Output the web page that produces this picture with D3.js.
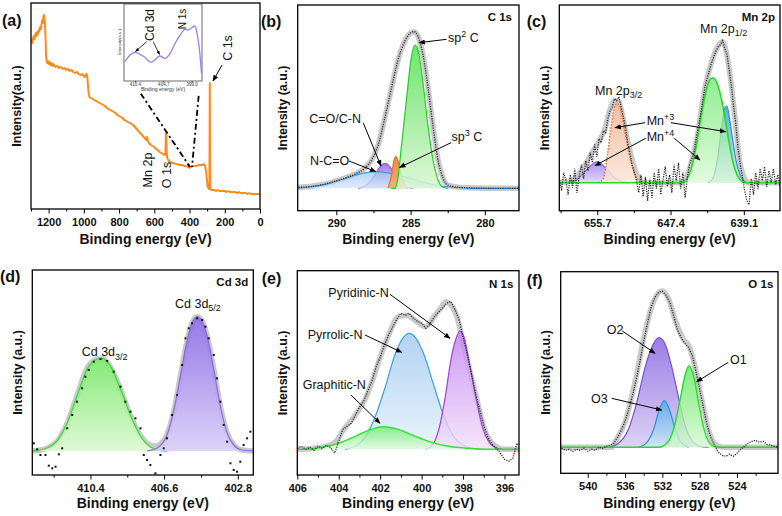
<!DOCTYPE html>
<html><head><meta charset="utf-8">
<script src="https://cdn.jsdelivr.net/npm/d3@7/dist/d3.min.js"></script>
<style>
body{margin:0;background:#fff;}
svg{display:block;font-family:"Liberation Sans",Arial,sans-serif;}
</style></head><body>
<svg id="chart" width="782" height="516"></svg>
<script>
// ---------------- DATA (binding energy eV, intensity a.u.) ----------------
const surveyData = [[1300,167],[1296,169],[1292,166],[1288,171],[1284,173],[1280,170],[1276,174],[1272,176],[1268,173],[1264,177],[1260,175],[1256,179],[1252,178],[1248,182],[1244,180],[1240,185],[1236,189],[1233,186],[1230,192],[1227,194],[1224,190],[1221,187],[1218,174],[1215,156],[1212,148],[1208,146],[1204,148],[1200,145],[1195,147],[1190,144],[1185,146],[1180,143],[1175,145],[1170,144],[1160,142],[1150,143],[1140,141],[1130,142],[1120,140],[1110,141],[1100,139],[1090,140],[1080,138],[1070,139],[1060,137],[1050,136],[1040,137],[1030,135],[1020,134],[1010,135],[1000,133],[995,132],[990,134],[985,135],[981,133],[977,125],[973,116],[968,112],[960,111],[950,110],[940,109],[930,108],[920,107],[910,106],[900,105],[890,104],[880,103],[870,101],[860,100],[850,99],[840,98],[830,97],[820,96],[810,94],[800,93],[790,92],[780,91],[770,89],[760,88],[750,87],[740,86],[730,85],[720,84],[710,82],[700,80],[690,78],[680,76],[670,74],[660,72],[650,70],[645,69],[641,72],[637,68],[630,66],[620,64],[610,63],[600,62],[590,60],[580,59],[570,57],[560,56],[550,55],[542,54],[537,56],[534,76],[532,74],[530,58],[527,51],[520,49],[510,47],[500,46],[490,46],[480,45],[470,45],[460,44],[450,44],[440,44],[430,43],[420,43],[410,42],[404,44],[400,41],[396,42],[390,42],[380,43],[370,43],[360,43],[350,44],[340,44],[330,44],[320,45],[314,44],[309,41],[305,36],[301,29],[297,22],[293,21],[289,20],[287,22],[285,126],[283,21],[281,20],[276,19],[270,19],[260,19],[250,18],[240,19],[230,18],[220,18],[210,18],[200,18],[190,17],[180,18],[170,17],[160,17],[150,17],[140,17],[130,16],[120,17],[110,16],[100,16],[90,16],[80,16],[70,15],[60,16],[50,15],[40,15],[30,15],[20,15],[10,15],[0,14]];
const insetData = [[412.4,19.3],[411.4,26],[410.4,28.7],[409.4,26.7],[408.4,23.7],[407.2,18.7],[406.4,21],[405.4,25],[404.4,22.7],[403.3,27.7],[402.3,37.7],[401.3,46],[400.3,51.7],[399.7,51],[399.0,53.3],[398.3,55],[397.9,47.7],[397.4,31],[397.0,7.7]];

// C 1s
const c1sSp2 = [[286.3,0],[286.07,0],[285.89,6.6],[285.62,41.6],[285.28,88.3],[284.94,131.6],[284.72,143.3],[284.50,138.3],[284.16,105],[283.82,61.6],[283.49,28.3],[283.15,8.3],[282.81,1],[282.47,0]];
const c1sSp3 = [[286.52,0],[286.29,13],[286.12,28],[285.98,31.7],[285.80,25],[285.62,13],[285.39,3],[285.17,0]];
const c1sCO = [[288.54,0],[288.09,2],[287.64,8],[287.30,16],[286.97,23],[286.70,25],[286.41,22],[286.07,14],[285.74,6],[285.28,1.5],[284.84,0]];
const c1sNCO = [[292.7,0],[292.36,0.5],[291.46,2],[290.57,4.5],[289.67,8.5],[288.77,13],[287.87,16],[287.30,16.7],[286.52,15.5],[285.62,12.5],[284.72,8.5],[283.82,5],[282.93,2.3],[282.02,0.8],[280.90,0],[277.6,0]];
const c1sEnvelope = [[292.7,1],[292.56,1],[290.99,3.5],[289.89,8],[288.77,14],[288.09,20],[287.64,28],[287.19,43],[286.74,70],[286.29,100],[285.85,128],[285.39,147],[284.99,155.5],[284.77,156.6],[284.50,152],[284.16,133],[283.82,100],[283.49,62],[283.15,28],[282.81,10],[282.47,3],[281.57,0.8],[279.77,0],[277.6,0]];

// Mn 2p
const mnP32Mn4 = [[659.0,0],[658.03,3],[657.09,11],[656.33,18],[655.65,21],[655.13,18],[654.45,12],[653.69,5],[652.75,0.5],[652.19,0]];
const mnP32Mn3 = [[655.58,0],[655.02,4],[654.52,30],[654.07,60],[653.69,77],[653.39,79],[653.01,72],[652.56,50],[651.99,25],[651.43,8],[650.86,1],[650.30,0]];
const mnP12Mn4 = [[660,0],[646.14,0],[645.39,6],[644.63,30],[643.87,70],[643.19,98],[642.63,105],[642.06,98],[641.43,75],[640.86,45],[640.31,20],[639.75,6],[638.99,0],[635,0]];
const mnP12Mn3 = [[643.13,0],[642.56,5],[642.06,25],[641.62,55],[641.24,75],[641.02,76.7],[640.68,62],[640.31,40],[639.93,20],[639.44,6],[638.99,1],[638.61,0]];
const mnEnvelope = [[660,0],[658.6,2],[657.5,12],[656.3,30],[655.6,40],[654.8,55],[654.3,72],[653.7,82],[653.2,80],[652.8,65],[652.2,40],[651.6,18],[651.05,5],[650.3,0],[646.1,0],[645.4,10],[644.4,45],[643.5,95],[642.7,122],[642.0,137],[641.5,141],[641.2,135],[640.7,110],[640.1,65],[639.7,30],[639.2,8],[638.6,0],[635,0]];
const mnData = [[660,5],[659.75,-8],[659.5,10],[659.25,2],[659,-12],[658.75,8],[658.5,-5],[658.25,14],[658,-10],[657.75,6],[657.5,18],[657.25,4],[657,22],[656.75,12],[656.5,30],[656.25,20],[656,38],[655.75,26],[655.5,44],[655.25,40],[655,52],[654.75,50],[654.5,64],[654.25,72],[654,76],[653.75,84],[653.5,82],[653.25,86],[653,76],[652.75,66],[652.5,55],[652.25,40],[652,30],[651.75,18],[651.5,10],[651.25,2],[651,-10],[650.75,8],[650.5,-14],[650.25,6],[650,-18],[649.75,4],[649.5,-15],[649.25,10],[649,-6],[648.75,14],[648.5,-12],[648.25,3],[648,16],[647.75,-4],[647.5,8],[647.25,-10],[647,18],[646.75,2],[646.5,20],[646.25,-6],[646,10],[645.75,-15],[645.5,5],[645.25,18],[645,24],[644.75,30],[644.5,44],[644.25,56],[644,68],[643.75,82],[643.5,96],[643.25,104],[643,112],[642.75,120],[642.5,126],[642.25,132],[642,136],[641.75,138],[641.5,142],[641.25,134],[641,128],[640.75,112],[640.5,96],[640.25,76],[640,58],[639.75,34],[639.5,18],[639.25,6],[639,-8],[638.75,-18],[638.5,-22],[638.25,4],[638,-12],[637.75,10],[637.5,-6],[637.25,14],[637,2],[636.75,16],[636.5,-4],[636.25,12],[636,0],[635.75,14],[635.5,-2],[635.25,8],[635,-4]];

// Cd 3d
const cd32 = [[413.4,0],[413.15,0.5],[412.63,3],[412.12,10],[411.6,28],[411.09,55],[410.57,82],[410.05,92],[409.8,92.7],[409.37,85],[408.85,62],[408.34,36],[407.82,15],[407.31,4],[406.79,0.5],[406.45,0]];
const cd52 = [[407.48,0],[406.96,3],[406.45,16],[406.11,40],[405.76,75],[405.42,110],[405.16,128],[404.9,134.3],[404.64,130],[404.38,115],[404.04,82],[403.7,45],[403.35,18],[403.01,6],[402.58,1],[402.0,0]];
const cdEnvelope = [[413.4,0],[413.15,0.5],[412.6,3],[412.1,10],[411.6,28],[411.1,55],[410.6,82],[410.05,92],[409.8,92.7],[409.4,85],[408.85,62],[408.35,36],[407.8,15],[407.3,6],[407.0,5],[406.8,7],[406.45,16.5],[406.1,40],[405.76,75],[405.42,110],[405.16,128],[404.9,134.3],[404.64,130],[404.38,115],[404.04,82],[403.7,45],[403.35,18],[403.0,6],[402.6,1],[402.0,0]];
const cdData = [[413.32,7.7],[413.15,1.7],[412.98,-4],[412.72,-4],[412.55,-14.7],[412.37,-17.3],[412.2,-15.7],[412.03,-3.3],[411.86,2.7],[411.6,22.7],[411.34,36],[411.09,49.3],[410.83,62.7],[410.66,74.3],[410.49,81],[410.23,89.3],[409.88,92],[409.54,90],[409.2,79.3],[408.85,64.3],[408.6,49.3],[408.34,39.3],[408.08,32.7],[407.82,22.7],[407.65,-4],[407.48,-9],[407.31,-14],[407.05,-22.3],[406.79,-4],[406.62,2.7],[406.45,12.7],[406.19,36],[405.93,56],[405.67,86],[405.5,112.7],[405.33,122.7],[405.16,127.7],[404.9,132.7],[404.64,131],[404.47,124.3],[404.3,112.7],[404.04,96],[403.87,72.7],[403.7,49.3],[403.53,26],[403.35,9.3],[403.18,-12.3],[403.01,-19],[402.84,-20.7],[402.67,-10.7],[402.5,6],[402.32,12.7],[402.15,19.3]];

// N 1s
const nGraphitic = [[406,0],[405.63,0],[404.82,2],[404.02,6],[403.21,13],[402.57,19],[401.85,22.6],[401.12,20],[400.31,13],[399.51,7],[398.71,3],[397.74,1],[396.77,0],[395.2,0]];
const nPyrrolic = [[403.7,0],[403.21,3],[402.73,12],[402.25,32],[401.76,62],[401.28,95],[400.88,112],[400.6,116],[400.31,112],[399.91,96],[399.43,65],[398.94,34],[398.46,13],[397.98,4],[397.41,0.5],[396.98,0]];
const nPyridinic = [[399.81,0],[399.49,4],[399.17,20],[398.84,55],[398.6,88],[398.35,110],[398.16,118.3],[397.95,112],[397.71,88],[397.38,52],[397.06,22],[396.74,7],[396.42,1.5],[396.1,0]];
const nEnvelope = [[406,0],[405.95,0],[404.82,2],[404.18,7],[403.78,19],[403.21,34],[402.73,50],[402.4,67],[402.0,92],[401.6,114],[401.12,132.6],[400.72,134],[400.31,129],[399.83,122.6],[399.35,134],[399.03,142.6],[398.83,147.6],[398.58,144],[398.27,131],[397.94,101],[397.46,61],[396.98,21],[396.49,4],[396.01,0],[395.2,0]];
const nData = [[406.0,1],[405.8,3],[405.6,0],[405.4,2],[405.2,-1],[405.0,3],[404.8,1],[404.6,4],[404.4,2],[404.2,-4],[404.0,8],[403.8,20],[403.6,23],[403.4,26],[403.2,34],[403.0,42],[402.8,48],[402.6,58],[402.4,68],[402.2,82],[402.0,92],[401.8,104],[401.6,114],[401.4,122],[401.2,130],[401.0,136],[400.8,134],[400.6,136],[400.4,131],[400.2,128],[400.0,126],[399.8,121],[399.6,125],[399.4,132],[399.2,137],[399.0,141],[398.8,146],[398.6,148],[398.4,140],[398.2,130],[398.0,112],[397.8,95],[397.6,76],[397.4,56],[397.2,40],[397.0,24],[396.8,12],[396.6,5],[396.4,1],[396.2,-4],[396.0,-10],[395.8,-12],[395.6,-9],[395.4,6],[395.2,3]];

// O 1s
const oO2 = [[537.79,0],[536.71,4],[535.64,18],[534.74,45],[533.85,80],[533.13,100],[532.35,109.6],[531.7,103],[530.98,80],[530.27,50],[529.56,22],[528.84,7],[527.95,1],[527.04,0]];
const oO3 = [[534.53,0],[533.64,5],[532.93,18],[532.32,38],[531.79,46.6],[531.26,38],[530.68,20],[530.08,6],[529.18,0]];
const oO1 = [[542.9,0],[532.41,0],[531.52,4],[530.8,18],[530.09,48],[529.56,72],[529.16,81.3],[528.66,72],[528.12,45],[527.58,20],[527.04,6],[526.33,0.5],[525.6,0],[519.6,0]];
const oEnvelope = [[542.9,0],[537.42,0],[537.06,5.6],[535.99,25.6],[534.92,65.6],[533.85,115.6],[532.96,145.6],[532.06,156.3],[531.35,149],[530.63,127.3],[529.81,109],[529.1,100.6],[528.38,75.6],[527.66,42.3],[526.95,14],[526.23,2.3],[525.52,0],[519.6,0]];
const oData = [[542.8,-1],[542.4,-3],[542.0,-2],[541.6,-4],[541.2,-2],[540.8,-3],[540.4,-1],[540.0,-4],[539.6,-2],[539.2,-3],[538.8,0],[538.4,-1],[538.0,1],[537.6,2],[537.2,4],[536.8,10],[536.4,17],[536.0,26],[535.6,38],[535.2,52],[534.8,68],[534.4,86],[534.0,106],[533.6,124],[533.2,140],[532.8,150],[532.4,155],[532.0,156],[531.6,152],[531.2,145],[530.8,132],[530.4,118],[530.0,110],[529.6,104],[529.2,100],[528.8,92],[528.4,76],[528.0,58],[527.6,40],[527.2,22],[526.8,10],[526.4,2],[526.0,-5],[525.6,-8],[525.2,-9],[524.8,-7],[524.4,-9],[524.0,-6],[523.6,-2],[523.2,1],[522.8,4],[522.4,6],[522.0,7],[521.6,5],[521.2,6],[520.8,3],[520.4,2],[520.0,1],[519.6,0]];

// tick labels
const ticksA = [1200,1000,800,600,400,200,0];
const ticksB = [290,285,280];
const ticksC = [655.7,647.4,639.1];
const ticksD = [410.4,406.6,402.8];
const ticksE = [406,404,402,400,398,396];
const ticksF = [540,536,532,528,524];
const ticksInset = [410.4,404.7,399.0];

// ---------------- DRAWING ----------------
const FF = '"Liberation Sans", Arial, sans-serif';
const svg = d3.select("#chart");
svg.append("rect").attr("width",782).attr("height",516).attr("fill","#fff");
const defs = svg.append("defs");
function marker(id,size){
  defs.append("marker").attr("id",id).attr("viewBox","0 0 10 10").attr("refX",9).attr("refY",5)
    .attr("markerWidth",size).attr("markerHeight",size).attr("markerUnits","userSpaceOnUse").attr("orient","auto")
    .append("path").attr("d","M0,1 L10,5 L0,9 z").attr("fill","#000");
}
marker("arr",6.5); marker("arrS",4);
let gid=0;
function grad(top,bot){
  const id="gr"+(gid++);
  const lg=defs.append("linearGradient").attr("id",id).attr("x1",0).attr("y1",0).attr("x2",0).attr("y2",1);
  lg.append("stop").attr("offset","0%").attr("stop-color",top);
  lg.append("stop").attr("offset","100%").attr("stop-color",bot);
  return `url(#${id})`;
}
function rich(g,x,y,parts,size,opts={}){
  const t=g.append("text").attr("x",x).attr("y",y).attr("font-size",size).attr("fill","#111")
    .attr("text-anchor",opts.anchor||"start").attr("font-weight",opts.bold?"bold":"normal");
  if(opts.rotate) t.attr("transform",`rotate(-90,${x},${y})`);
  let shift=0;
  parts.forEach(p=>{
    const s=typeof p==="string"?p:p[0], kind=typeof p==="string"?"n":p[1];
    const target=kind==="sup"?-0.38*size:kind==="sub"?0.28*size:0;
    const ts=t.append("tspan").text(s).attr("dy",target-shift);
    shift=target;
    if(kind!=="n") ts.attr("font-size",size*0.72);
  });
  return t;
}
function arrow(g,x1,y1,x2,y2,m="arr",w=1){
  g.append("line").attr("x1",x1).attr("y1",y1).attr("x2",x2).attr("y2",y2)
   .attr("stroke","#000").attr("stroke-width",w).attr("marker-end",`url(#${m})`);
}

function buildPanel(cfg){
  const [x0,y0,x1,y1]=cfg.box;
  const x=d3.scaleLinear().domain(cfg.xd).range([x0,x1]);
  const y=d3.scaleLinear().domain(cfg.yd).range([y1,y0]);
  const g=svg.append("g");
  const cid="clip-"+cfg.id;
  defs.append("clipPath").attr("id",cid).append("rect").attr("x",x0).attr("y",y0).attr("width",x1-x0).attr("height",y1-y0);
  const plot=g.append("g").attr("clip-path",`url(#${cid})`);
  if(cfg.minor){
    const mg=g.append("g").attr("transform",`translate(0,${y1})`)
      .call(d3.axisBottom(x).tickValues(cfg.minor).tickSize(2.5).tickFormat(""));
    mg.select(".domain").remove(); mg.selectAll("line").attr("stroke","#000");
  }
  const ag=g.append("g").attr("transform",`translate(0,${y1})`)
    .call(d3.axisBottom(x).tickValues(cfg.major).tickSize(4.5).tickFormat(cfg.fmt));
  ag.select(".domain").remove();
  ag.attr("font-size",11).attr("font-family",FF).attr("font-weight","bold");
  ag.selectAll("line").attr("stroke","#000");
  ag.selectAll("text").attr("y",16.5).attr("dy",null).attr("fill","#111");
  const frame=g.append("rect").attr("x",x0).attr("y",y0).attr("width",x1-x0).attr("height",y1-y0)
    .attr("fill","none").attr("stroke","#000").attr("stroke-width",1.3);
  g.append("text").attr("x",(x0+x1)/2).attr("y",cfg.xTitleY).attr("text-anchor","middle")
    .attr("font-size",14).attr("font-weight","bold").attr("fill","#111").text("Binding energy (eV)");
  const yc=(y0+y1)/2, xc=x0-14.5;
  g.append("text").attr("transform",`translate(${xc},${yc}) rotate(-90)`).attr("text-anchor","middle")
    .attr("dominant-baseline","central").attr("font-size",12.5).attr("font-weight","bold").attr("fill","#111").text(cfg.yTitle);
  g.append("text").attr("x",cfg.labelPos[0]).attr("y",cfg.labelPos[1]).attr("font-size",16)
    .attr("font-weight","bold").attr("fill","#111").text(cfg.label);
  if(cfg.corner) g.append("text").attr("x",cfg.corner[1]).attr("y",cfg.corner[2]).attr("text-anchor","end")
    .attr("font-size",11.5).attr("font-weight","bold").attr("fill","#111").text(cfg.corner[0]);
  return {x,y,g,plot,frame};
}
function comp(P,data,c){
  const area=d3.area().x(d=>P.x(d[0])).y0(P.y(0)).y1(d=>P.y(d[1])).curve(d3.curveMonotoneX);
  const line=d3.line().x(d=>P.x(d[0])).y(d=>P.y(d[1])).curve(d3.curveMonotoneX);
  P.plot.append("path").datum(data).attr("d",area).attr("fill",grad(c.top,c.bot)).attr("fill-opacity",c.fo??0.85);
  P.plot.append("path").datum(data).attr("d",line).attr("fill","none").attr("stroke",c.stroke)
    .attr("stroke-width",c.sw??1.2).attr("stroke-dasharray",c.dash||null);
}
function band(P,data){
  const line=d3.line().x(d=>P.x(d[0])).y(d=>P.y(d[1])).curve(d3.curveMonotoneX);
  P.plot.append("path").datum(data).attr("d",line).attr("fill","none").attr("stroke","#bfbfbf")
    .attr("stroke-width",5.5).attr("stroke-opacity",0.85).attr("stroke-linejoin","round");
}
function dotted(P,data,curve){
  const line=d3.line().x(d=>P.x(d[0])).y(d=>P.y(d[1])).curve(curve||d3.curveLinear);
  P.plot.append("path").datum(data).attr("d",line).attr("fill","none").attr("stroke","#1a1a1a")
    .attr("stroke-width",1.3).attr("stroke-dasharray","1.1,1.3");
}
const fmtInt=d3.format("d"), fmt1=d3.format(".1f");

// ---- (a) survey ----
const A=buildPanel({id:"a",box:[31,3,260,209],xd:[1300,0],yd:[0,206],major:ticksA,minor:[1300,1100,900,700,500,300,100],
  fmt:fmtInt,yTitle:"Intensity(a.u.)",label:"(a)",labelPos:[2,26],xTitleY:244});
A.plot.append("path").datum(surveyData)
  .attr("d",d3.line().x(d=>A.x(d[0])).y(d=>A.y(d[1])))
  .attr("fill","none").attr("stroke","#ff8a1a").attr("stroke-width",2).attr("stroke-linejoin","round");
rich(A.g,231.5,48,["C 1s"],12.5,{anchor:"middle",rotate:true});
arrow(A.g,222,65,213,81);
rich(A.g,151.5,170,["Mn 2p"],12.5,{anchor:"middle",rotate:true});
rich(A.g,170.5,175,["O 1s"],12.5,{anchor:"middle",rotate:true});
// dash-dot zoom lines
[[133,82,190,167],[200,82,192,167]].forEach(l=>A.g.append("line").attr("x1",l[0]).attr("y1",l[1]).attr("x2",l[2]).attr("y2",l[3])
  .attr("stroke","#000").attr("stroke-width",1.8).attr("stroke-dasharray","6,3,2,3"));
// inset
const ib=[124,4,202,81];
A.g.append("rect").attr("x",117).attr("y",4).attr("width",88).attr("height",89).attr("fill","#fff");
const ix=d3.scaleLinear().domain([412.6,396.9]).range([ib[0],ib[2]]);
const iy=d3.scaleLinear().domain([0,77]).range([ib[3],ib[1]]);
const ig=A.g.append("g");
ig.append("rect").attr("x",ib[0]).attr("y",ib[1]).attr("width",ib[2]-ib[0]).attr("height",ib[3]-ib[1]).attr("fill","#fff").attr("stroke","#444").attr("stroke-width",0.8);
ig.append("path").datum(insetData).attr("d",d3.line().x(d=>ix(d[0])).y(d=>iy(d[1])).curve(d3.curveMonotoneX))
  .attr("fill","none").attr("stroke","#9a7ff0").attr("stroke-width",1.3);
const iax=ig.append("g").attr("transform",`translate(0,${ib[3]})`).call(d3.axisBottom(ix).tickValues(ticksInset).tickSize(1.5).tickFormat(fmt1));
iax.select(".domain").remove(); iax.attr("font-size",4.5).attr("font-family",FF);
iax.selectAll("text").attr("y",5).attr("dy",null).attr("fill","#333"); iax.selectAll("line").attr("stroke","#444");
ig.append("text").attr("x",163).attr("y",91).attr("text-anchor","middle").attr("font-size",5).attr("fill","#333").text("Binding energy (eV)");
ig.append("text").attr("transform","translate(119.5,42) rotate(-90)").attr("text-anchor","middle").attr("dominant-baseline","central").attr("font-size",4.3).attr("fill","#333").text("Intensity(a.u.)");
rich(ig,154,25,["Cd 3d"],12,{anchor:"middle",rotate:true});
rich(ig,186,19,["N 1s"],10,{anchor:"middle",rotate:true});
arrow(ig,146.7,41.7,135.5,51.5,"arrS",0.8);
arrow(ig,153.3,41.7,159.5,54.5,"arrS",0.8);

// ---- (b) C 1s ----
const B=buildPanel({id:"b",box:[297.7,5,519,210.7],xd:[292.6,277.7],yd:[-22.4,183.3],major:ticksB,minor:[287.5,282.5],
  fmt:fmtInt,yTitle:"Intensity (a.u.)",label:"(b)",labelPos:[261,26.5],xTitleY:244,corner:["C 1s",512,21]});
band(B,c1sEnvelope);
comp(B,c1sCO,{top:"#9469e0",bot:"#d6c8f3",stroke:"#8c5fe0",fo:0.85});
comp(B,c1sNCO,{top:"#9fc4ee",bot:"#d6e6f8",stroke:"#3d9be0",fo:0.75});
comp(B,c1sSp3,{top:"#e8853a",bot:"#f2b07a",stroke:"#e07a2a",fo:0.95});
comp(B,c1sSp2,{top:"#55e055",bot:"#d8f7d2",stroke:"#1fd11f",fo:0.85});
dotted(B,c1sEnvelope,d3.curveMonotoneX);
rich(B.g,448,41.5,["sp",["2","sup"]," C"],12.5);
arrow(B.g,446.5,39.3,419,42.7);
rich(B.g,451.5,141,["sp",["3","sup"]," C"],12.5);
arrow(B.g,451,142.7,399.5,167.5);
rich(B.g,309.3,122.7,["C=O/C-N"],12.5);
arrow(B.g,363.3,123,381,166);
rich(B.g,310,165,["N-C=O"],12.5);
arrow(B.g,349,161,375.7,171.5);

// ---- (c) Mn 2p ----
const Cp=buildPanel({id:"c",box:[559.3,5,780,210.7],xd:[660,635],yd:[-28,177.7],major:ticksC,minor:[659.85,651.55,643.25],
  fmt:fmt1,yTitle:"Intensity (a.u.)",label:"(c)",labelPos:[526.7,26.5],xTitleY:244,corner:["Mn 2p",775,21]});
band(Cp,mnEnvelope);
comp(Cp,mnP32Mn4,{top:"#9a7ef0",bot:"#ddd2fa",stroke:"#8a62e8",fo:0.85});
comp(Cp,mnP32Mn3,{top:"#f3b394",bot:"#fbe5d9",stroke:"#e8702a",dash:"1.6,1.4",sw:1.4,fo:0.85});
comp(Cp,mnP12Mn3,{top:"#4fa3e6",bot:"#d2e6f8",stroke:"#2f8ad8",fo:0.9});
comp(Cp,mnP12Mn4,{top:"#66e866",bot:"#d8f8d2",stroke:"#22dd22",sw:1.6,fo:0.72});
dotted(Cp,mnData);
rich(Cp.g,595,94.5,["Mn 2p",["3/2","sub"]],12.5);
rich(Cp.g,700,32.8,["Mn 2p",["1/2","sub"]],12.5);
rich(Cp.g,646.7,125.2,["Mn",["+3","sup"]],12.5);
rich(Cp.g,646.7,141.2,["Mn",["+4","sup"]],12.5);
arrow(Cp.g,645,122.7,615,127.7);
arrow(Cp.g,671,122.7,725.7,131.7);
arrow(Cp.g,645.7,138.3,595,165.7);
arrow(Cp.g,674.3,138.3,700,160);

// ---- (d) Cd 3d ----
const D=buildPanel({id:"d",box:[32.3,270,253.3,475],xd:[413.4,402.0],yd:[-24,181],major:ticksD,minor:[412.3,408.5,404.7],
  fmt:fmt1,yTitle:"Intensity (a.u.)",label:"(d)",labelPos:[0,281.5],xTitleY:507.5,corner:["Cd 3d",248.3,285.8]});
band(D,cdEnvelope);
comp(D,cd32,{top:"#78e868",bot:"#dcf8d2",stroke:"#33dd33",sw:1.3,fo:0.9});
comp(D,cd52,{top:"#8a6ae6",bot:"#d8cef7",stroke:"#8a6ae0",sw:1.2,fo:0.9});
D.plot.selectAll("rect.pt").data(cdData).join("rect").attr("class","pt")
  .attr("x",d=>D.x(d[0])-1).attr("y",d=>D.y(d[1])-1).attr("width",2).attr("height",2).attr("fill","#111");
rich(D.g,81.7,356,["Cd 3d",["3/2","sub"]],12.5);
rich(D.g,175,307.6,["Cd 3d",["5/2","sub"]],12.5);

// ---- (e) N 1s ----
const E=buildPanel({id:"e",box:[297.3,270.7,519,475],xd:[406,395.3],yd:[-25.7,178.6],major:ticksE,minor:[405,403,401,399,397],
  fmt:fmtInt,yTitle:"Intensity (a.u.)",label:"(e)",labelPos:[261.7,283.5],xTitleY:507.5,corner:["N 1s",513.3,287.5]});
band(E,nEnvelope);
comp(E,nPyrrolic,{top:"#9ec8f0",bot:"#e6f1fb",stroke:"#3aa0e0",fo:0.8});
comp(E,nPyridinic,{top:"#c27ff0",bot:"#f1e0fb",stroke:"#9b45d6",fo:0.8});
comp(E,nGraphitic,{top:"#6fec6f",bot:"#e2fbe2",stroke:"#2fe02f",sw:1.4,fo:0.8});
dotted(E,nData);
rich(E.g,328.3,296.7,["Pyridinic-N"],12.5);
arrow(E.g,390,294.3,450,338.3);
rich(E.g,307.7,338.7,["Pyrrolic-N"],12.5);
arrow(E.g,365,335,401.7,352.3);
rich(E.g,302.7,389.4,["Graphitic-N"],12.5);
arrow(E.g,351,395,380,423.3);

// ---- (f) O 1s ----
const F=buildPanel({id:"f",box:[560.7,271.7,778,473.3],xd:[542.9,519.6],yd:[-26,175.6],major:ticksF,minor:[538,534,530,526,522],
  fmt:fmtInt,yTitle:"Intensity (a.u.)",label:"(f)",labelPos:[526.7,285.8],xTitleY:507.5,corner:["O 1s",773.3,287.5]});
band(F,oEnvelope);
comp(F,oO2,{top:"#8a66e0",bot:"#d6cbf5",stroke:"#7a4fd0",fo:0.85});
comp(F,oO3,{top:"#4fa8e8",bot:"#d0e7f8",stroke:"#2f8fd8",fo:0.8});
comp(F,oO1,{top:"#5ee85e",bot:"#d6f8d0",stroke:"#22dd22",sw:1.4,fo:0.8});
dotted(F,oData);
rich(F.g,606.7,334.4,["O2"],12.5);
arrow(F.g,622.3,331,655,353.3);
rich(F.g,730,364.4,["O1"],12.5);
arrow(F.g,728.3,362.3,696.7,381.7);
rich(F.g,591,403.4,["O3"],12.5);
arrow(F.g,611.7,398.3,661.7,410);
</script>
</body></html>
